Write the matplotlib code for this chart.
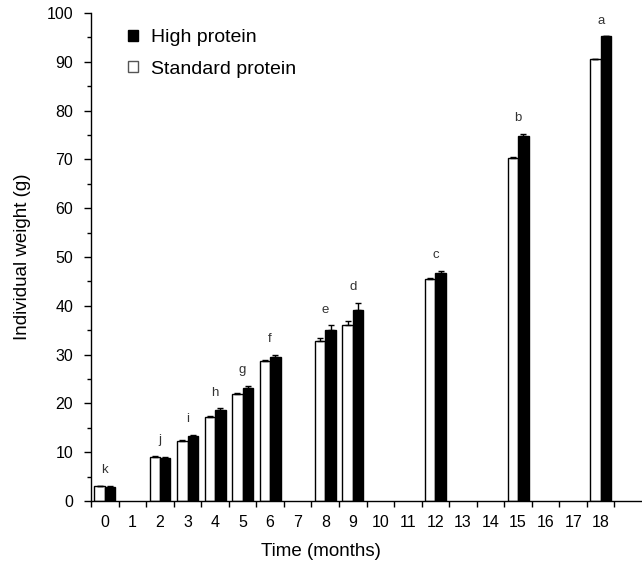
import matplotlib
matplotlib.use("Agg")
import matplotlib.pyplot as plt
from matplotlib.patches import Patch
from matplotlib.ticker import MultipleLocator, FixedLocator, NullFormatter, FixedFormatter

plt.rcParams['font.family'] = ['Liberation Sans', 'DejaVu Sans']

# data
months = [0, 2, 3, 4, 5, 6, 8, 9, 12, 15, 18]
standard = [3.0, 9.1, 12.3, 17.2, 21.9, 28.6, 32.7, 36.0, 45.5, 70.2, 90.5]
high = [2.9, 8.9, 13.3, 18.6, 23.2, 29.6, 35.0, 39.2, 46.8, 74.8, 95.2]
standard_err = [0.1, 0.2, 0.2, 0.3, 0.3, 0.3, 0.8, 0.8, 0.2, 0.3, 0.0]
high_err = [0.1, 0.1, 0.2, 0.4, 0.4, 0.3, 1.0, 1.4, 0.4, 0.5, 0.0]
letters = ['k', 'j', 'i', 'h', 'g', 'f', 'e', 'd', 'c', 'b', 'a']
month_labels = [str(m) for m in range(19)]

fig = plt.figure(figsize=(6.42, 5.65), dpi=100)
ax = fig.add_axes([0.142, 0.1133, 0.858, 0.8637])

w = 0.38
zeros = [0] * len(months)
ekw = dict(elinewidth=1, capsize=2, capthick=1, ecolor='black')
ax.bar([m - w / 2 for m in months], standard, width=w, color='white',
       edgecolor='black', linewidth=1, yerr=[zeros, standard_err], error_kw=ekw)
ax.bar([m + w / 2 for m in months], high, width=w, color='black',
       edgecolor='black', linewidth=1, yerr=[zeros, high_err], error_kw=ekw)

for m, s, se, h, he, let in zip(months, standard, standard_err, high, high_err, letters):
    top = max(s + se, h + he)
    ax.text(m, top + 3.2, let, ha='center', va='center', fontsize=9.5, color='#333333')

ax.set_xlim(-0.5, 19.5)
ax.set_ylim(0, 100)

# x ticks at category boundaries, labels at centers
ax.xaxis.set_major_locator(FixedLocator([i - 0.5 for i in range(20)]))
ax.xaxis.set_major_formatter(NullFormatter())
ax.xaxis.set_minor_locator(FixedLocator(list(range(19))))
ax.xaxis.set_minor_formatter(FixedFormatter(month_labels))
ax.tick_params(axis='x', which='major', direction='out', length=4, width=1)
ax.tick_params(axis='x', which='minor', length=0, labelsize=11.5, pad=10)

ax.yaxis.set_major_locator(MultipleLocator(10))
ax.yaxis.set_minor_locator(MultipleLocator(5))
ax.tick_params(axis='y', which='major', direction='out', length=5, width=1, labelsize=11.5, pad=8)
ax.tick_params(axis='y', which='minor', direction='out', length=3, width=1)

for sp in ['top', 'right']:
    ax.spines[sp].set_visible(False)
for sp in ['left', 'bottom']:
    ax.spines[sp].set_linewidth(1)

ax.set_ylabel('Individual weight (g)', fontsize=13.5, labelpad=11)
fig.text(0.5, 0.024, 'Time (months)', ha='center', va='center', fontsize=13.5)

handles = [Patch(facecolor='black', edgecolor='black'),
           Patch(facecolor='white', edgecolor='#555555')]
ax.legend(handles, ['High protein', 'Standard protein'], loc='upper left',
          bbox_to_anchor=(128 / 642, 1 - 29 / 565), bbox_transform=fig.transFigure,
          frameon=False, fontsize=14, handlelength=0.5, handleheight=0.5,
          handletextpad=0.7, labelspacing=0.75, borderpad=0, borderaxespad=0)

fig.savefig('out.png', dpi=100)
